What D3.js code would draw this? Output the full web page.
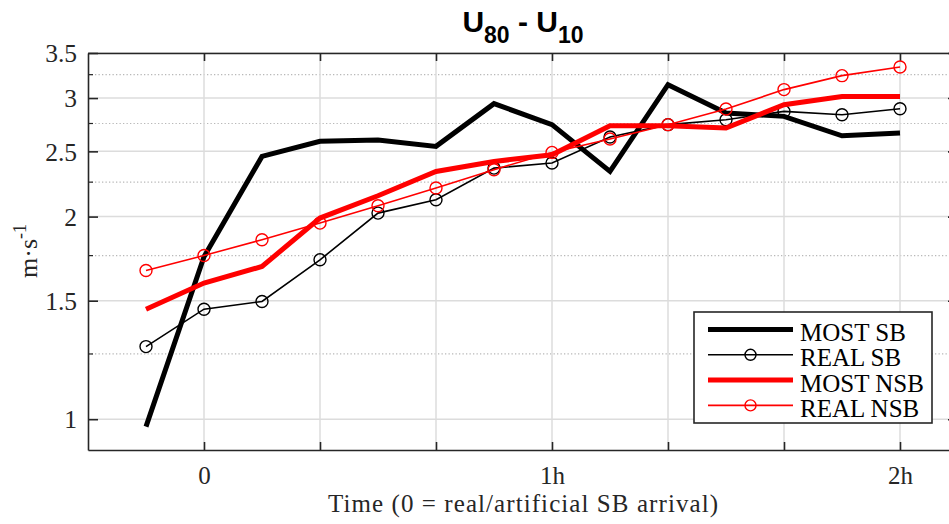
<!DOCTYPE html>
<html><head><meta charset="utf-8">
<script src="https://cdn.jsdelivr.net/npm/d3@7"></script>
<style>body{margin:0;background:#fff} svg{display:block}</style>
</head><body><svg id="c" width="949" height="524"></svg>
<script>
const timesMin = [-10,0,10,20,30,40,50,60,70,80,90,100,110,120];
const mostSB  = [0.975,1.743,2.457,2.587,2.600,2.543,2.943,2.739,2.334,3.141,2.851,2.818,2.637,2.662];
const realSB  = [1.282,1.457,1.496,1.725,2.024,2.119,2.361,2.402,2.626,2.739,2.786,2.866,2.834,2.893];
const mostNSB = [1.457,1.593,1.686,1.990,2.148,2.334,2.415,2.471,2.729,2.729,2.708,2.933,3.017,3.017];
const realNSB = [1.663,1.751,1.848,1.956,2.076,2.205,2.348,2.491,2.608,2.739,2.890,3.088,3.239,3.337];
const xTicks = [0,20,40,60,80,100,120];
const xTickLabels = ["0","","","1h","","","2h"];
const yTicks = [1,1.5,2,2.5,3,3.5];
const yTickLabels = ["1","1.5","2","2.5","3","3.5"];
const yMinorTicks = [1.25,1.75,2.25,2.75,3.25];
const seriesNames = ["MOST SB","REAL SB","MOST NSB","REAL NSB"];
const xLabel = "Time (0 = real/artificial SB arrival)";

const series = [
  {name: seriesNames[0], values: mostSB,  color: "#000000", width: 5,   marker: false},
  {name: seriesNames[1], values: realSB,  color: "#000000", width: 1.6, marker: true},
  {name: seriesNames[2], values: mostNSB, color: "#ff0000", width: 5,   marker: false},
  {name: seriesNames[3], values: realNSB, color: "#ff0000", width: 1.6, marker: true}
];

const svg = d3.select("#c");
const L = 88, R = 958, T = 53, B = 450;
const x = d3.scaleLinear().domain([-20,130]).range([L,R]);
const y = d3.scaleLog().domain([0.9,3.5]).range([B,T]);
const FONT = "'Liberation Serif', 'Times New Roman', serif";
const AX = "#262626";

// grid
const g = svg.append("g");
g.selectAll(".ym").data(yMinorTicks).join("line")
  .attr("x1",L).attr("x2",R).attr("y1",d=>y(d)).attr("y2",d=>y(d))
  .attr("stroke","#b8b8b8").attr("stroke-width",1.2).attr("stroke-dasharray","1.3,2.2");
g.selectAll(".yg").data(yTicks).join("line")
  .attr("x1",L).attr("x2",R).attr("y1",d=>y(d)).attr("y2",d=>y(d))
  .attr("stroke","#dcdcdc").attr("stroke-width",1.5);
g.selectAll(".xg").data(xTicks).join("line")
  .attr("y1",T).attr("y2",B).attr("x1",d=>x(d)).attr("x2",d=>x(d))
  .attr("stroke","#dcdcdc").attr("stroke-width",1.5);

// axes
function styleAxis(sel){
  sel.selectAll("path").attr("stroke",AX).attr("stroke-width",1.6);
  sel.selectAll("line").attr("stroke",AX).attr("stroke-width",1.6);
  sel.selectAll("text").attr("fill",AX).attr("font-family",FONT).attr("font-size",25.5);
}
const yl = svg.append("g").attr("transform",`translate(${L},0)`)
  .call(d3.axisLeft(y).tickValues(yTicks).tickFormat((d,i)=>yTickLabels[i]).tickSize(-10).tickSizeOuter(0).tickPadding(11));
styleAxis(yl);
yl.selectAll("text").attr("dy","0.34em");
const yr = svg.append("g").attr("transform",`translate(${R},0)`)
  .call(d3.axisRight(y).tickValues(yTicks).tickFormat("").tickSize(-10).tickSizeOuter(0));
styleAxis(yr);
const xb = svg.append("g").attr("transform",`translate(0,${B})`)
  .call(d3.axisBottom(x).tickValues(xTicks).tickFormat((d,i)=>xTickLabels[i]).tickSize(-8).tickSizeOuter(0).tickPadding(16));
styleAxis(xb);
xb.selectAll("text").attr("font-size",25);
const xt = svg.append("g").attr("transform",`translate(0,${T})`)
  .call(d3.axisTop(x).tickValues(xTicks).tickFormat("").tickSize(-8).tickSizeOuter(0));
styleAxis(xt);
// minor y ticks
[[L,5],[R,-5]].forEach(([x0,len])=>{
  svg.selectAll(null).data(yMinorTicks).join("line")
    .attr("x1",x0).attr("x2",x0+len).attr("y1",d=>y(d)).attr("y2",d=>y(d))
    .attr("stroke",AX).attr("stroke-width",1.2);
});

// data
const clip = svg.append("clipPath").attr("id","pc").append("rect")
  .attr("x",L).attr("y",T).attr("width",R-L).attr("height",B-T);
const plot = svg.append("g").attr("clip-path","url(#pc)");
const line = d3.line().x((d,i)=>x(timesMin[i])).y(d=>y(d));
series.forEach(s=>{
  plot.append("path").datum(s.values).attr("d",line)
    .attr("fill","none").attr("stroke",s.color).attr("stroke-width",s.width)
    .attr("stroke-linejoin","miter");
  if(s.marker){
    plot.selectAll(null).data(s.values).join("circle")
      .attr("cx",(d,i)=>x(timesMin[i])).attr("cy",d=>y(d)).attr("r",6)
      .attr("fill","none").attr("stroke",s.color).attr("stroke-width",1.4);
  }
});

// title
const title = svg.append("text").attr("x",(L+R)/2).attr("y",32)
  .attr("text-anchor","middle").attr("font-family","'Liberation Sans', Arial, sans-serif")
  .attr("font-weight","bold").attr("font-size",30).attr("fill","#000");
title.append("tspan").text("U");
title.append("tspan").attr("font-size",23).attr("dy",11).text("80");
title.append("tspan").attr("dy",-11).text(" - U");
title.append("tspan").attr("font-size",23).attr("dy",11).text("10");

// x label
svg.append("text").attr("x",523).attr("y",512).attr("text-anchor","middle")
  .attr("font-family",FONT).attr("font-size",25).attr("fill",AX)
  .attr("textLength",390).attr("lengthAdjust","spacing").text(xLabel);

// y label
const ylab = svg.append("text").attr("transform",`translate(37,251) rotate(-90)`)
  .attr("text-anchor","middle").attr("font-family",FONT).attr("font-size",26).attr("fill",AX);
ylab.append("tspan").text("m\u00b7s");
ylab.append("tspan").attr("font-size",18).attr("dy",-11).text("-1");

// legend
const lg = svg.append("g");
lg.append("rect").attr("x",694).attr("y",312).attr("width",238).attr("height",111)
  .attr("fill","#fff").attr("stroke",AX).attr("stroke-width",1.6);
series.forEach((s,i)=>{
  const yy = 329.5 + i*25.3;
  lg.append("line").attr("x1",708).attr("x2",793).attr("y1",yy).attr("y2",yy)
    .attr("stroke",s.color).attr("stroke-width",s.width);
  if(s.marker) lg.append("circle").attr("cx",750.5).attr("cy",yy).attr("r",5.5)
    .attr("fill","none").attr("stroke",s.color).attr("stroke-width",1.4);
  lg.append("text").attr("x",800).attr("y",yy+11.5).attr("font-family",FONT)
    .attr("font-size",25).attr("fill","#000").text(s.name);
});
</script></body></html>
